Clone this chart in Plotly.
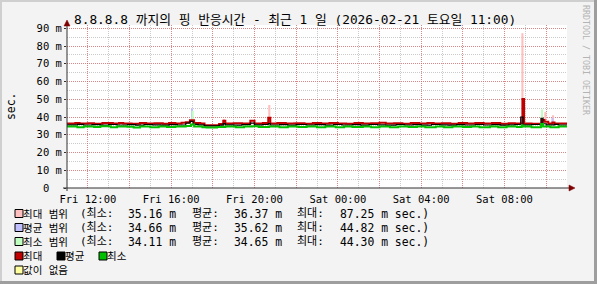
import plotly.graph_objects as go

# ---------------- data ----------------
title_text = "8.8.8.8 까지의 핑 반응시간 - 최근 1 일 (2026-02-21 토요일 11:00)"
x_tick_hours = [12, 14, 16, 18, 20, 22, 24, 26, 28, 30, 32, 34]
x_tick_labels = ["Fri 12:00", "", "Fri 16:00", "", "Fri 20:00", "", "Sat 00:00", "", "Sat 04:00", "", "Sat 08:00", ""]
y_tick_vals = [0, 10, 20, 30, 40, 50, 60, 70, 80, 90]
y_tick_labels = ["0\u00a0\u00a0", "10 m", "20 m", "30 m", "40 m", "50 m", "60 m", "70 m", "80 m", "90 m"]

# step series (hour of day from Fri 11:00 = 11 to Sat 11:00 = 35), values in ms
max_t = [11.0, 11.4, 11.6, 12.0, 12.3, 12.7, 13.2, 13.5, 13.7, 14.1, 14.5, 14.8, 15.2, 15.6, 15.9,
         16.2, 16.5, 16.7, 16.9, 17.1, 17.4, 17.6, 18.3, 18.5, 18.6, 19.0, 19.4, 19.8, 20.0, 20.4,
         20.66, 20.76, 21.1, 21.5, 22.0, 22.4, 22.8, 23.2, 23.6, 24.0, 24.4, 24.8, 25.2, 25.6, 26.0,
         26.3, 26.7, 27.1, 27.5, 27.9, 28.3, 28.6, 29.0, 29.4, 29.8, 30.2, 30.6, 31.0, 31.4, 31.8,
         32.2, 32.5, 32.86, 32.94, 33.3, 33.8, 33.92, 34.1, 34.3, 34.4, 35.0]
max_v = [36.3, 36.7, 36.3, 36.5, 36.2, 36.6, 36.3, 36.7, 36.4, 36.2, 36.6, 36.3, 36.5, 36.2, 36.6,
         36.4, 36.8, 37.0, 38.2, 36.6, 36.3, 35.4, 36.0, 37.9, 36.3, 36.5, 36.3, 37.9, 36.4, 36.6,
         39.6, 36.4, 36.6, 36.3, 36.5, 36.2, 36.6, 36.3, 36.7, 36.4, 36.2, 36.6, 36.3, 36.5, 36.8,
         36.3, 36.5, 36.2, 36.6, 36.4, 36.7, 36.3, 36.5, 36.2, 36.6, 36.4, 36.7, 36.3, 36.6, 36.2,
         36.5, 36.3, 50.1, 36.4, 36.2, 38.3, 37.3, 36.4, 36.9, 36.4, 36.4]

avg_t = [11.0, 11.5, 11.8, 12.2, 12.6, 13.0, 13.4, 13.9, 14.3, 14.7, 15.1, 15.5, 15.9, 16.3, 16.7,
         16.9, 17.05, 17.3, 17.6, 18.3, 18.5, 18.6, 19.0, 19.4, 19.8, 20.0, 20.4, 20.66, 20.76, 21.2,
         21.6, 22.0, 22.5, 22.9, 23.4, 23.8, 24.2, 24.7, 25.1, 25.5, 25.9, 26.3, 26.8, 27.2, 27.6,
         28.0, 28.5, 28.9, 29.3, 29.7, 30.1, 30.6, 31.0, 31.4, 31.8, 32.2, 32.5, 32.78, 32.89, 33.3,
         33.75, 33.85, 34.0, 34.4, 34.6, 35.0]
avg_v = [35.6, 35.9, 35.5, 35.7, 35.4, 35.8, 35.5, 35.7, 35.4, 35.8, 35.6, 35.4, 35.7, 35.5, 36.6,
         37.6, 35.9, 35.6, 35.0, 35.4, 36.3, 35.6, 35.4, 35.7, 36.6, 35.6, 35.8, 36.3, 35.5, 35.7,
         35.4, 35.8, 35.5, 35.7, 35.4, 35.8, 35.5, 35.7, 35.4, 35.8, 35.6, 35.4, 35.8, 35.5, 35.7,
         35.4, 35.8, 35.6, 35.4, 35.7, 35.5, 35.8, 35.5, 35.7, 35.4, 35.6, 35.8, 40.0, 35.6, 35.8,
         39.3, 36.2, 35.6, 35.9, 35.5, 35.5]

min_t = [11.0, 11.5, 11.8, 12.3, 12.6, 13.1, 13.4, 13.9, 14.2, 14.5, 15.0, 15.4, 15.8, 16.2, 16.7,
         16.95, 17.1, 17.5, 17.7, 18.2, 18.6, 19.1, 19.5, 19.9, 20.2, 20.7, 21.2, 21.6, 22.1, 22.5,
         23.0, 23.4, 23.9, 24.3, 24.7, 25.2, 25.6, 26.0, 26.5, 26.9, 27.4, 27.8, 28.2, 28.7, 29.1,
         29.5, 30.0, 30.4, 30.8, 31.3, 31.7, 32.1, 32.6, 32.82, 32.9, 33.3, 33.75, 33.85, 34.2, 34.6,
         35.0]
min_v = [34.6, 34.2, 34.7, 34.4, 34.8, 34.3, 34.7, 34.5, 34.1, 34.6, 34.3, 34.7, 34.4, 34.6, 35.0,
         35.8, 34.6, 34.3, 34.1, 34.4, 34.7, 34.3, 34.6, 34.8, 34.4, 34.6, 34.2, 34.6, 34.4, 34.7,
         34.3, 34.6, 34.2, 34.6, 34.4, 34.7, 34.3, 34.6, 34.2, 34.6, 34.4, 34.7, 34.3, 34.6, 34.2,
         34.6, 34.4, 34.7, 34.3, 34.6, 34.2, 34.6, 34.4, 35.2, 34.6, 34.3, 36.0, 34.6, 34.3, 34.6,
         34.6]

# range bands (where they show above the lines)
max_rng_t = [18.54, 20.71, 21.9, 25.0, 32.86, 33.96, 34.33]
max_rng_lo = [37.9, 39.6, 36.5, 36.6, 50.1, 37.3, 36.9]
max_rng_hi = [38.8, 46.8, 37.3, 37.5, 87.25, 42.8, 41.0]
avg_rng_t = [17.0, 32.83, 34.30]
avg_rng_lo = [37.5, 35.8, 36.5]
avg_rng_hi = [44.82, 40.0, 39.6]
min_rng_t = [17.03, 33.8]
min_rng_lo = [35.8, 36.0]
min_rng_hi = [43.5, 44.30]

# legend statistics
rng_names = ["최대 범위", "평균 범위", "최소 범위"]
stat_min = [35.16, 34.66, 34.11]
stat_avg = [36.37, 35.62, 34.65]
stat_max = [87.25, 44.82, 44.30]

# ---------------- style ----------------
W, H = 597, 284
L, R, T, B = 67, 30, 25, 96
PW, PH = W - L - R, H - T - B
BACK = "#f3f3f3"
MGRID = "rgba(230,80,80,0.55)"
GRID = "rgba(140,140,140,0.45)"
ARROW = "#7f0000"
AXIS = "#303030"
MONO = "DejaVu Sans Mono, Noto Sans CJK KR"
C_PINK, C_BLUE, C_LGREEN = "#ffbfbf", "#bfbfff", "#bfffbf"
C_RED, C_BLACK, C_GREEN, C_YELLOW = "#c00000", "#000000", "#00c000", "#ffffa0"


def xp(px):
    return (px - L) / PW


def yp(py):
    return (H - B - py) / PH


fig = go.Figure()

for t, lo, hi, col in [(max_rng_t, max_rng_lo, max_rng_hi, C_PINK),
                       (avg_rng_t, avg_rng_lo, avg_rng_hi, C_BLUE),
                       (min_rng_t, min_rng_lo, min_rng_hi, C_LGREEN)]:
    fig.add_trace(go.Bar(x=t, base=lo, y=[h - l for h, l in zip(hi, lo)], width=0.1,
                         marker=dict(color=col, line=dict(width=0)), hoverinfo="skip"))

for t, v, col, w in [(max_t, max_v, C_RED, 2), (avg_t, avg_v, C_BLACK, 1.2), (min_t, min_v, C_GREEN, 2)]:
    fig.add_trace(go.Scatter(x=t, y=v, mode="lines", line=dict(color=col, width=w, shape="hv"),
                             hoverinfo="skip"))

shapes = []
anns = []

# outer border (3D look)
shapes.append(dict(type="rect", xref="paper", yref="paper", x0=xp(0), x1=xp(W), y0=yp(0), y1=yp(2),
                   fillcolor="#cfcfcf", line=dict(width=0), layer="below"))
shapes.append(dict(type="rect", xref="paper", yref="paper", x0=xp(0), x1=xp(2), y0=yp(0), y1=yp(H),
                   fillcolor="#cfcfcf", line=dict(width=0), layer="below"))
shapes.append(dict(type="rect", xref="paper", yref="paper", x0=xp(W - 3), x1=xp(W), y0=yp(0), y1=yp(H),
                   fillcolor="#9e9e9e", line=dict(width=0), layer="below"))
shapes.append(dict(type="rect", xref="paper", yref="paper", x0=xp(0), x1=xp(W), y0=yp(H - 3), y1=yp(H),
                   fillcolor="#9e9e9e", line=dict(width=0), layer="below"))

# axes with arrows
shapes.append(dict(type="line", xref="paper", yref="paper", x0=xp(63), x1=xp(571), y0=yp(188), y1=yp(188),
                   line=dict(color=AXIS, width=1)))
shapes.append(dict(type="line", xref="paper", yref="paper", x0=xp(67), x1=xp(67), y0=yp(191), y1=yp(23),
                   line=dict(color=AXIS, width=1)))
shapes.append(dict(type="path", xref="paper", yref="paper",
                   path=f"M {xp(569)} {yp(185)} L {xp(575)} {yp(188)} L {xp(569)} {yp(191)} Z",
                   fillcolor=ARROW, line=dict(color=ARROW, width=0.5)))
shapes.append(dict(type="path", xref="paper", yref="paper",
                   path=f"M {xp(64)} {yp(26)} L {xp(67)} {yp(20)} L {xp(70)} {yp(26)} Z",
                   fillcolor=ARROW, line=dict(color=ARROW, width=0.5)))


def ann(text, px, py, size, xanchor="left", color="#000000", angle=0, family=MONO):
    anns.append(dict(text=text, x=xp(px), y=yp(py), xref="paper", yref="paper", showarrow=False,
                     xanchor=xanchor, yanchor="middle", textangle=angle, borderpad=0, borderwidth=0,
                     font=dict(family=family, size=size, color=color)))


def swatch(px, py, col):
    shapes.append(dict(type="rect", xref="paper", yref="paper", x0=xp(px), x1=xp(px + 8),
                       y0=yp(py + 4), y1=yp(py - 4), fillcolor=col, line=dict(color="#000000", width=1)))


ann(title_text, 73.5, 19, 12.8)
ann("sec.", 11, 107, 11.4, xanchor="center", angle=-90)
ann("RRDTOOL / TOBI OETIKER", 586, 60, 8.3, xanchor="center", color="#b4b4b4", angle=90)

row_y = [213.5, 227.5, 241.5, 256, 270]
for i, (name, col) in enumerate(zip(rng_names, [C_PINK, C_BLUE, C_LGREEN])):
    y = row_y[i]
    swatch(15, y, col)
    ann(name, 22.5, y, 10.5)
    ann("(최소:", 80, y, 11)
    ann(f"{stat_min[i]:.2f} m", 128, y, 11.4)
    ann("평균:", 191.5, y, 11)
    ann(f"{stat_avg[i]:.2f} m", 234, y, 11.4)
    ann("최대:", 296.5, y, 11)
    ann(f"{stat_max[i]:.2f} m sec.)", 340, y, 11.4)

for px, col, name in [(15, C_RED, "최대"), (57, C_BLACK, "평균"), (99, C_GREEN, "최소")]:
    swatch(px, row_y[3], col)
    ann(name, px + 7.5, row_y[3], 10.5)
swatch(15, row_y[4], C_YELLOW)
ann("값이 없음", 22.5, row_y[4], 10.5)

fig.update_layout(
    width=W, height=H, margin=dict(l=L, r=R, t=T, b=B, pad=0),
    paper_bgcolor=BACK, plot_bgcolor="#ffffff", showlegend=False,
    barmode="overlay", shapes=shapes, annotations=anns,
    font=dict(family=MONO, size=10.5, color="#000000"),
    xaxis=dict(range=[11, 35], tickmode="array", tickvals=x_tick_hours, ticktext=x_tick_labels,
               showgrid=True, gridcolor=MGRID, griddash="1px,1px", gridwidth=1,
               minor=dict(dtick=1, tick0=11, showgrid=True, gridcolor=GRID, griddash="1px,1px", gridwidth=1),
               ticks="", showline=False, zeroline=False, fixedrange=True, ticklabelstandoff=3,
               tickfont=dict(family="DejaVu Sans Mono", size=10.5, color="#000000")),
    yaxis=dict(range=[0, 91.86], tickmode="array", tickvals=y_tick_vals, ticktext=y_tick_labels,
               showgrid=True, gridcolor=MGRID, griddash="1px,1px", gridwidth=1,
               minor=dict(dtick=5, tick0=0, showgrid=True, gridcolor=GRID, griddash="1px,1px", gridwidth=1),
               ticks="outside", ticklen=2, tickcolor=AXIS, showline=False, zeroline=False, fixedrange=True,
               tickfont=dict(family="DejaVu Sans Mono", size=10.5, color="#000000")),
)

fig.write_html("out.html")
